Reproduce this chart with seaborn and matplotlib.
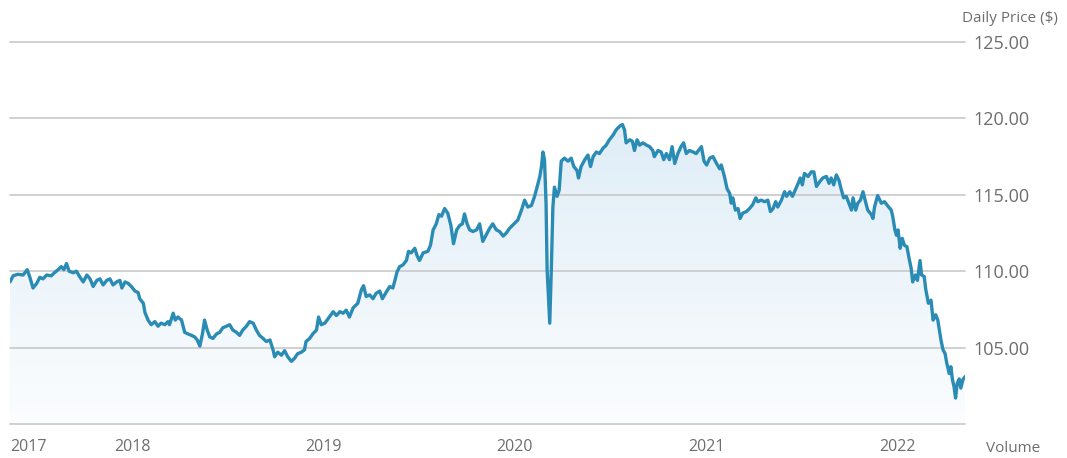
import numpy as np
import pandas as pd
import seaborn as sns
import matplotlib.pyplot as plt
import matplotlib.dates as mdates
from matplotlib.colors import LinearSegmentedColormap

# daily price
dates = [
    "2017-05-11", "2017-05-17", "2017-05-26", "2017-06-05", "2017-06-13", "2017-06-18", "2017-06-24",
    "2017-07-01", "2017-07-07", "2017-07-13", "2017-07-20", "2017-07-29", "2017-08-04", "2017-08-11",
    "2017-08-17", "2017-08-22", "2017-08-27", "2017-09-01", "2017-09-09", "2017-09-15", "2017-09-22",
    "2017-09-28", "2017-10-05", "2017-10-11", "2017-10-17", "2017-10-24", "2017-10-30", "2017-11-05",
    "2017-11-12", "2017-11-18", "2017-11-24", "2017-12-01", "2017-12-07", "2017-12-11", "2017-12-17",
    "2017-12-23", "2017-12-29", "2018-01-05", "2018-01-11", "2018-01-14", "2018-01-21", "2018-01-24",
    "2018-01-30", "2018-02-05", "2018-02-12", "2018-02-18", "2018-02-24", "2018-03-03", "2018-03-09",
    "2018-03-12", "2018-03-19", "2018-03-23", "2018-03-28", "2018-04-04", "2018-04-10", "2018-04-16",
    "2018-04-23", "2018-04-29", "2018-05-04", "2018-05-09", "2018-05-14", "2018-05-18", "2018-05-23",
    "2018-05-28", "2018-06-03", "2018-06-10", "2018-06-16", "2018-06-22", "2018-06-29", "2018-07-05",
    "2018-07-11", "2018-07-18", "2018-07-24", "2018-07-30", "2018-08-06", "2018-08-12", "2018-08-19",
    "2018-08-25", "2018-08-31", "2018-09-07", "2018-09-13", "2018-09-20", "2018-09-26", "2018-09-29",
    "2018-10-05", "2018-10-12", "2018-10-18", "2018-10-24", "2018-10-31", "2018-11-06", "2018-11-12",
    "2018-11-19", "2018-11-25", "2018-11-28", "2018-12-05", "2018-12-11", "2018-12-18", "2018-12-22",
    "2018-12-27", "2019-01-03", "2019-01-19", "2019-01-25", "2019-02-01", "2019-02-07", "2019-02-13",
    "2019-02-19", "2019-02-26", "2019-03-07", "2019-03-14", "2019-03-18", "2019-03-23", "2019-03-30",
    "2019-04-05", "2019-04-11", "2019-04-18", "2019-04-23", "2019-04-29", "2019-05-07", "2019-05-13",
    "2019-05-17", "2019-05-21", "2019-05-26", "2019-06-01", "2019-06-08", "2019-06-12", "2019-06-17",
    "2019-06-24", "2019-06-28", "2019-07-03", "2019-07-10", "2019-07-19", "2019-07-24", "2019-07-29",
    "2019-08-04", "2019-08-09", "2019-08-14", "2019-08-20", "2019-08-26", "2019-09-01", "2019-09-06",
    "2019-09-12", "2019-09-18", "2019-09-23", "2019-09-27", "2019-10-02", "2019-10-07", "2019-10-13",
    "2019-10-20", "2019-10-26", "2019-11-01", "2019-11-08", "2019-11-14", "2019-11-20", "2019-11-27",
    "2019-12-03", "2019-12-10", "2019-12-16", "2019-12-22", "2020-01-07", "2020-01-14", "2020-01-20",
    "2020-01-26", "2020-02-02", "2020-02-08", "2020-02-12", "2020-02-18", "2020-02-21", "2020-02-24",
    "2020-02-27", "2020-03-01", "2020-03-03", "2020-03-08", "2020-03-11", "2020-03-14", "2020-03-17",
    "2020-03-22", "2020-03-26", "2020-03-30", "2020-04-05", "2020-04-12", "2020-04-18", "2020-04-23",
    "2020-04-29", "2020-05-02", "2020-05-07", "2020-05-14", "2020-05-20", "2020-05-25", "2020-05-30",
    "2020-06-05", "2020-06-11", "2020-06-18", "2020-06-24", "2020-06-30", "2020-07-07", "2020-07-13",
    "2020-07-20", "2020-07-25", "2020-07-29", "2020-08-01", "2020-08-08", "2020-08-13", "2020-08-17",
    "2020-08-22", "2020-08-27", "2020-09-02", "2020-09-09", "2020-09-15", "2020-09-21", "2020-09-24",
    "2020-10-01", "2020-10-07", "2020-10-12", "2020-10-17", "2020-10-23", "2020-10-28", "2020-11-02",
    "2020-11-08", "2020-11-14", "2020-11-19", "2020-11-24", "2020-11-30", "2020-12-07", "2020-12-13",
    "2020-12-23", "2020-12-28", "2021-01-02", "2021-01-08", "2021-01-14", "2021-01-21", "2021-01-27",
    "2021-01-30", "2021-02-05", "2021-02-10", "2021-02-15", "2021-02-18", "2021-02-21", "2021-02-26",
    "2021-03-03", "2021-03-07", "2021-03-12", "2021-03-19", "2021-03-25", "2021-03-31", "2021-04-06",
    "2021-04-10", "2021-04-16", "2021-04-23", "2021-04-29", "2021-05-04", "2021-05-09", "2021-05-14",
    "2021-05-18", "2021-05-25", "2021-05-31", "2021-06-04", "2021-06-10", "2021-06-15", "2021-06-19",
    "2021-06-26", "2021-06-30", "2021-07-04", "2021-07-08", "2021-07-15", "2021-07-21", "2021-07-26",
    "2021-07-31", "2021-08-06", "2021-08-12", "2021-08-19", "2021-08-24", "2021-08-28", "2021-09-02",
    "2021-09-07", "2021-09-12", "2021-09-16", "2021-09-21", "2021-09-26", "2021-10-01", "2021-10-06",
    "2021-10-09", "2021-10-14", "2021-10-18", "2021-10-23", "2021-10-28", "2021-11-01", "2021-11-06",
    "2021-11-13", "2021-11-16", "2021-11-19", "2021-11-25", "2021-12-02", "2021-12-08", "2021-12-16",
    "2021-12-21", "2021-12-24", "2021-12-28", "2021-12-31", "2022-01-03", "2022-01-07", "2022-01-11",
    "2022-01-15", "2022-01-20", "2022-01-24", "2022-01-28", "2022-01-31", "2022-02-05", "2022-02-09",
    "2022-02-14", "2022-02-17", "2022-02-22", "2022-02-25", "2022-03-02", "2022-03-07", "2022-03-11",
    "2022-03-16", "2022-03-20", "2022-03-26", "2022-03-30", "2022-04-03", "2022-04-06", "2022-04-11",
    "2022-04-14", "2022-04-17", "2022-04-20", "2022-04-23", "2022-04-26", "2022-04-30", "2022-05-03",
    "2022-05-07", "2022-05-11",
]
prices = [
    109.3, 109.7, 109.8, 109.75, 110.1, 109.6, 108.9,
    109.2, 109.6, 109.5, 109.75, 109.7, 109.9, 110.1,
    110.3, 110.1, 110.5, 110.0, 109.9, 110.0, 109.6,
    109.3, 109.75, 109.5, 109.0, 109.4, 109.5, 109.1,
    109.4, 109.5, 109.1, 109.3, 109.4, 108.9, 109.3,
    109.2, 109.0, 108.7, 108.6, 108.2, 107.9, 107.3,
    106.8, 106.5, 106.7, 106.4, 106.6, 106.5, 106.7,
    106.5, 107.25, 106.8, 107.0, 106.8, 106.0, 105.9,
    105.8, 105.7, 105.5, 105.1, 105.9, 106.8, 106.15,
    105.7, 105.6, 105.9, 106.0, 106.3, 106.4, 106.5,
    106.15, 106.0, 105.8, 106.15, 106.4, 106.7, 106.6,
    106.15, 105.8, 105.6, 105.4, 105.5, 104.85, 104.4,
    104.7, 104.5, 104.8, 104.4, 104.1, 104.3, 104.6,
    104.7, 104.85, 105.4, 105.6, 105.9, 106.15, 107.0,
    106.5, 106.6, 107.35, 107.1, 107.35, 107.25, 107.45,
    107.0, 107.6, 107.9, 108.8, 109.05, 108.35, 108.45,
    108.2, 108.55, 108.7, 108.2, 108.55, 109.0, 108.9,
    109.4, 109.95, 110.3, 110.4, 110.7, 111.3, 111.2,
    111.5, 111.05, 110.7, 111.2, 111.3, 111.7, 112.7,
    113.1, 113.7, 113.6, 114.1, 113.8, 113.0, 111.8,
    112.7, 113.0, 113.1, 113.75, 113.1, 112.7, 112.6,
    112.7, 113.1, 111.95, 112.4, 112.8, 113.1, 112.7,
    112.6, 112.3, 112.5, 112.8, 113.35, 114.0, 114.65,
    114.2, 114.3, 114.9, 115.4, 116.2, 116.8, 117.8,
    117.3, 114.4, 110.1, 106.6, 110.1, 114.2, 115.5,
    114.9, 115.3, 117.2, 117.4, 117.2, 117.4, 116.85,
    116.6, 116.1, 116.85, 117.3, 117.6, 116.85, 117.5,
    117.8, 117.7, 118.05, 118.25, 118.6, 118.9, 119.25,
    119.5, 119.6, 119.25, 118.4, 118.6, 118.5, 117.9,
    118.6, 118.25, 118.4, 118.25, 118.15, 117.9, 117.5,
    117.9, 117.8, 117.3, 117.7, 117.3, 118.15, 117.05,
    117.7, 118.15, 118.4, 117.7, 117.9, 117.8, 117.7,
    118.15, 117.2, 116.95, 117.4, 117.5, 117.05, 116.7,
    116.95, 116.2, 115.4, 115.1, 114.45, 114.8, 114.0,
    114.1, 113.45, 113.8, 113.9, 114.1, 114.35, 114.8,
    114.55, 114.65, 114.55, 114.65, 113.9, 114.1, 114.55,
    114.2, 114.65, 115.2, 114.9, 115.2, 114.9, 115.2,
    115.75, 116.1, 115.65, 116.4, 116.2, 116.5, 116.5,
    115.55, 115.85, 116.1, 116.2, 115.75, 116.1, 115.65,
    116.3, 115.95, 115.4, 114.8, 114.9, 114.45, 114.0,
    114.8, 114.0, 114.45, 114.65, 115.2, 114.65, 114.0,
    113.7, 113.45, 114.2, 114.95, 114.45, 114.55, 114.2,
    114.0, 113.55, 112.7, 112.35, 112.7, 111.5, 112.15,
    111.7, 111.6, 110.85, 110.2, 109.3, 109.75, 109.4,
    110.7, 109.75, 109.65, 108.8, 107.9, 108.1, 106.8,
    107.15, 106.8, 105.5, 104.85, 104.6, 104.0, 103.3,
    103.75, 102.9, 102.45, 101.7, 102.65, 102.95, 102.35,
    102.9, 103.1,
]
year_labels = ["2017", "2018", "2019", "2020", "2021", "2022"]
price_ticks = [105, 110, 115, 120, 125]

df = pd.DataFrame({"date": pd.to_datetime(dates), "price": prices})

sns.set_style("white")
plt.rcParams["font.family"] = ["Open Sans", "DejaVu Sans"]

line_color = "#2a8bb5"
grid_color = "#c8c8c8"
text_color = "#6e6e6e"

fig = plt.figure(figsize=(10.67, 4.58), dpi=100)
ax = fig.add_axes([10 / 1067, 34 / 458, 955 / 1067, 382 / 458])

x0 = pd.Timestamp("2017-05-11")
x1 = pd.Timestamp("2022-05-11")

# gradient fill under the line
fill = ax.fill_between(df["date"], df["price"], 100, color="none", lw=0)
grad = np.linspace(1, 0, 256).reshape(-1, 1)
cmap = LinearSegmentedColormap.from_list("g", ["#fbfdfe", "#dfedf7"])
img = ax.imshow(grad, cmap=cmap, aspect="auto", zorder=1,
                extent=[mdates.date2num(x0), mdates.date2num(x1), 100, 120],
                origin="upper")
img.set_clip_path(fill.get_paths()[0], transform=ax.transData)
ax.set_xlim(x0, x1)
ax.set_ylim(100, 125)

# grid lines sit above the fill but under the price line
for v in [100] + price_ticks:
    ax.axhline(v, color=grid_color, lw=1.2, zorder=2, clip_on=False)

sns.lineplot(data=df, x="date", y="price", ax=ax, color=line_color,
             linewidth=2.4, zorder=3)

for s in ax.spines.values():
    s.set_visible(False)

ax.yaxis.tick_right()
ax.set_yticks(price_ticks)
ax.set_yticklabels([f"{v:.2f}" for v in price_ticks])
ax.tick_params(axis="y", length=0, pad=6, labelsize=13, labelcolor=text_color)

# year labels; the first one sits at the left edge since Jan 2017 is off-chart
ax.set_xticks([])
for lab in year_labels:
    pos = pd.Timestamp(f"{lab}-01-01")
    if pos < x0:
        ax.text(x0, -0.06, lab, transform=ax.get_xaxis_transform(), ha="left",
                va="center", fontsize=11.5, color=text_color)
    else:
        ax.text(pos, -0.06, lab, transform=ax.get_xaxis_transform(), ha="center",
                va="center", fontsize=11.5, color=text_color)

ax.set_xlabel("")
ax.set_ylabel("")
fig.text(1058 / 1067, 1 - 18 / 458, "Daily Price ($)", ha="right", va="center",
         fontsize=11, color=text_color)
fig.text(1013 / 1067, 1 - 448 / 458, "Volume", ha="center", va="center",
         fontsize=11, color=text_color)

fig.savefig("out.png", dpi=100)
